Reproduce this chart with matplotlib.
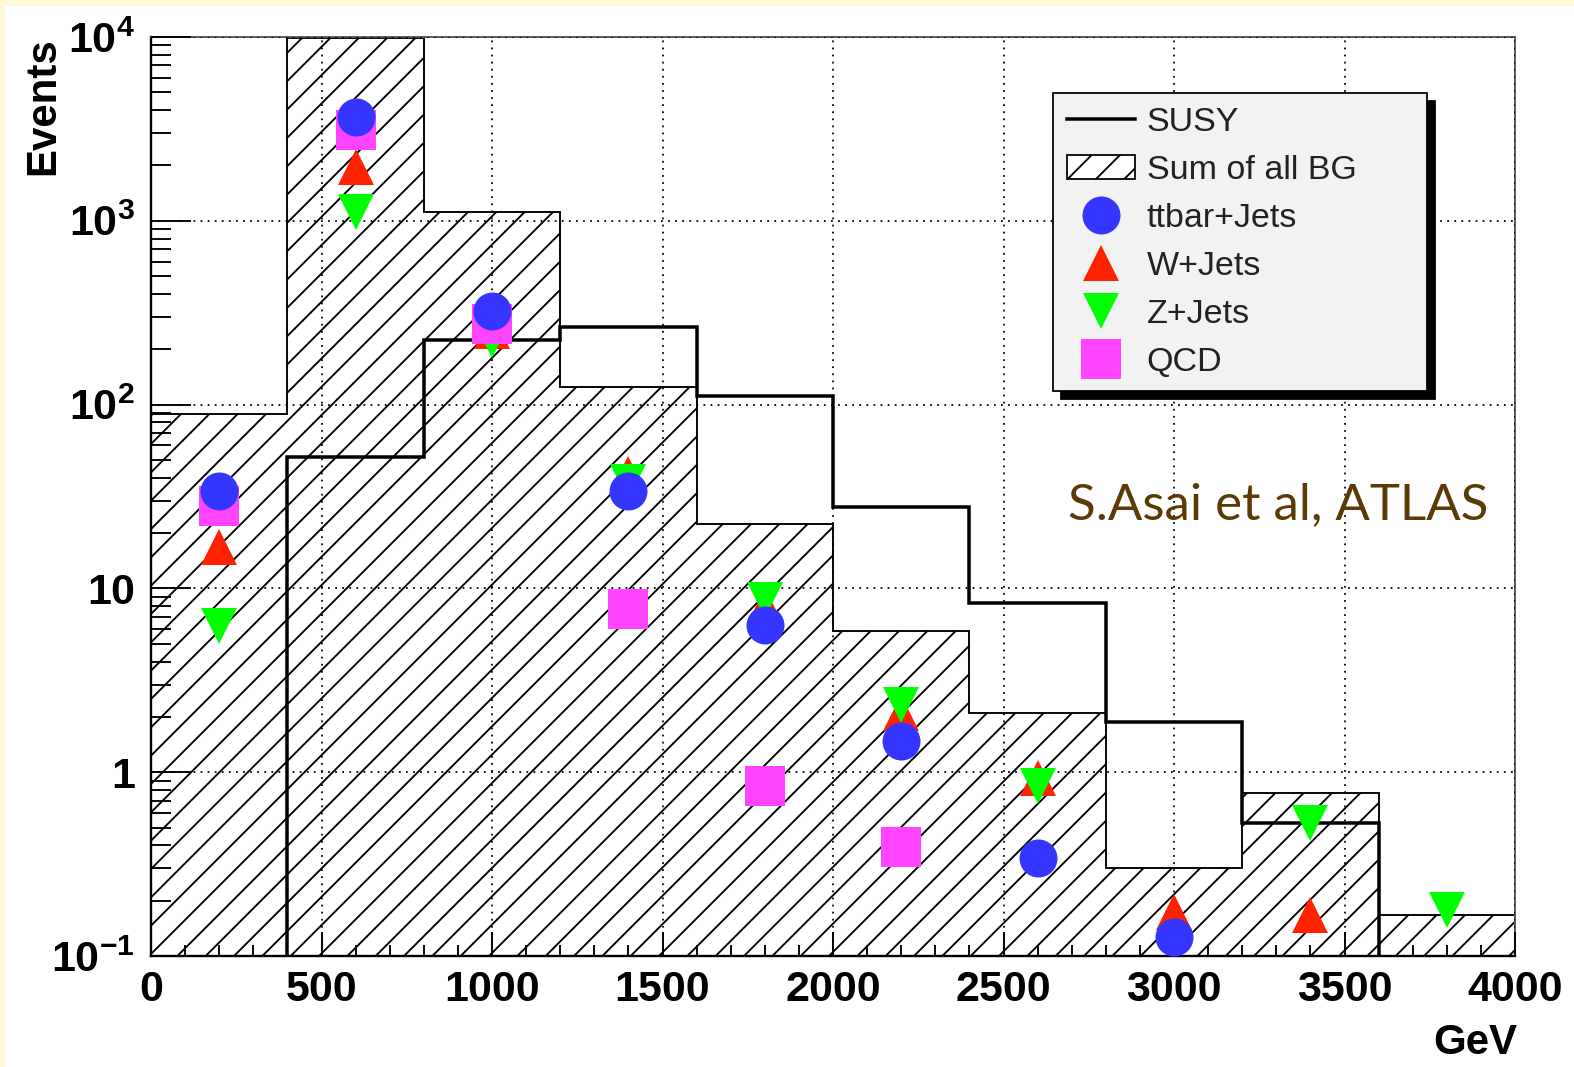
import numpy as np
import matplotlib
matplotlib.use("Agg")
import matplotlib.pyplot as plt
from matplotlib.patches import Rectangle
from matplotlib.lines import Line2D
from matplotlib.ticker import FixedLocator, MultipleLocator, LogLocator, NullFormatter

# ---------------- data ----------------
edges = [0, 400, 800, 1200, 1600, 2000, 2400, 2800, 3200, 3600, 4000]
centers = [200, 600, 1000, 1400, 1800, 2200, 2600, 3000, 3400, 3800]
bg_sum = [88.6, 9900, 1120, 124, 22.5, 5.9, 2.11, 0.30, 0.77, 0.167]
susy = [0, 52, 224, 264, 111, 27.6, 8.3, 1.88, 0.53, 0]
ttbar = [33.7, 3660, 322, 33.7, 6.35, 1.47, 0.34, 0.127, np.nan, np.nan]
wjets = [16.9, 1960, 250, 41.7, 8.0, 2.1, 0.93, 0.174, 0.168, np.nan]
zjets = [6.27, 1115, 226, 38, 8.7, 2.33, 0.84, np.nan, 0.53, 0.178]
qcd = [27.9, 3110, 273, 7.7, 0.84, 0.39, np.nan, np.nan, np.nan, np.nan]

x_ticks = [0, 500, 1000, 1500, 2000, 2500, 3000, 3500, 4000]
x_ticklabels = ["0", "500", "1000", "1500", "2000", "2500", "3000", "3500", "4000"]
y_ticks = [0.1, 1, 10, 100, 1000, 10000]
y_ticklabels = ["$10^{-1}$", "1", "10", "$10^{2}$", "$10^{3}$", "$10^{4}$"]

legend_labels = ["SUSY", "Sum of all BG", "ttbar+Jets", "W+Jets", "Z+Jets", "QCD"]
annotation = "S.Asai et al, ATLAS"

# ---------------- style ----------------
DPI = 85
W, H = 1574, 1067
def pt(px):
    return px * 72.0 / DPI

plt.rcParams["font.family"] = ["Liberation Sans", "DejaVu Sans"]
plt.rcParams["mathtext.fontset"] = "custom"
plt.rcParams["mathtext.rm"] = "Liberation Sans:bold"
plt.rcParams["mathtext.bf"] = "Liberation Sans:bold"
plt.rcParams["mathtext.it"] = "Liberation Sans:bold"
plt.rcParams["mathtext.default"] = "rm"
plt.rcParams["hatch.linewidth"] = 1.6

fig = plt.figure(figsize=(W / DPI, H / DPI), dpi=DPI)
fig.patch.set_facecolor("#fff8d8")
fig.patches.append(Rectangle((5 / W, 0), 1, 1 - 6 / H, transform=fig.transFigure,
                             facecolor="white", edgecolor="none", zorder=-10))

L, R, T, B = 151, 1515, 37, 956
ax = fig.add_axes([L / W, (H - B) / H, (R - L) / W, (B - T) / H])
ax.set_facecolor("white")
ax.set_yscale("log")
ax.set_xlim(0, 4000)
ax.set_ylim(0.1, 10000)

# background sum (hatched)
ax.stairs(bg_sum, edges, baseline=1e-3, fill=True, facecolor="white",
          edgecolor="black", hatch="/", linewidth=0, zorder=1)
ax.stairs(bg_sum, edges, baseline=1e-3, fill=False, edgecolor="black",
          linewidth=1.6, zorder=1.5)
# SUSY line
ax.stairs(susy, edges, baseline=None, fill=False, edgecolor="black",
          linewidth=pt(3.5), zorder=3)

ms_c, ms_t, ms_s = pt(38), pt(36), pt(39)
ax.plot(centers, wjets, ls="none", marker="^", ms=ms_t, color="#ff2200", mew=0, zorder=5)
ax.plot(centers, zjets, ls="none", marker="v", ms=ms_t, color="#00ff00", mew=0, zorder=6)
ax.plot(centers, qcd, ls="none", marker="s", ms=ms_s, color="#ff44ff", mew=0, zorder=7)
ax.plot(centers, ttbar, ls="none", marker="o", ms=ms_c, color="#3535ff", mew=0, zorder=8)

# grid
ax.set_axisbelow(False)
ax.grid(True, which="major", color="black", linestyle=(0, (1, 3)), linewidth=1.5)

# ticks
ax.xaxis.set_major_locator(FixedLocator(x_ticks))
ax.set_xticklabels(x_ticklabels)
ax.xaxis.set_minor_locator(MultipleLocator(100))
ax.yaxis.set_major_locator(FixedLocator(y_ticks))
ax.set_yticklabels(y_ticklabels)
ax.yaxis.set_minor_locator(LogLocator(base=10, subs=np.arange(2, 10)))
ax.yaxis.set_minor_formatter(NullFormatter())

fs_tick = pt(43)
ax.tick_params(axis="both", which="both", direction="in", top=False, right=False,
               width=1.6, color="black")
ax.tick_params(axis="y", which="major", length=pt(40), pad=pt(16), labelsize=fs_tick)
ax.tick_params(axis="y", which="minor", length=pt(20))
ax.tick_params(axis="x", which="major", length=pt(24), pad=pt(14), labelsize=fs_tick)
ax.tick_params(axis="x", which="minor", length=pt(11))
for lab in ax.get_xticklabels() + ax.get_yticklabels():
    lab.set_fontweight("bold")

for s in ["left", "bottom"]:
    ax.spines[s].set_linewidth(2.0)
    ax.spines[s].set_color("black")
for s in ["top", "right"]:
    ax.spines[s].set_linewidth(1.6)
    ax.spines[s].set_color("#555555")

# labels
ax.set_ylabel("Events", fontsize=pt(42), fontweight="bold", loc="top")
ax.yaxis.set_label_coords((63 - L) / (R - L), 1.0)
ax.set_xlabel("GeV", fontsize=pt(42), fontweight="bold", loc="right")
ax.xaxis.set_label_coords((1517 - L) / (R - L), -(1023 - B) / (B - T))

# annotation
ax.text((1068 - L) / (R - L), (B - 505) / (B - T), annotation, transform=ax.transAxes,
        fontsize=pt(51), color="#5a3a05", family=["Lato", "DejaVu Sans"],
        ha="left", va="center", zorder=10)

# legend
handles = [
    Line2D([], [], color="black", linewidth=pt(3.5)),
    Rectangle((0, 0), 1, 1, facecolor="white", edgecolor="black", hatch="/", linewidth=1.5),
    Line2D([], [], ls="none", marker="o", ms=ms_c, color="#3535ff", mew=0),
    Line2D([], [], ls="none", marker="^", ms=ms_t, color="#ff2200", mew=0),
    Line2D([], [], ls="none", marker="v", ms=ms_t, color="#00ff00", mew=0),
    Line2D([], [], ls="none", marker="s", ms=ms_s, color="#ff44ff", mew=0),
]
lx0 = (1053 - L) / (R - L)
lx1 = (1427 - L) / (R - L)
ly1 = (B - 93) / (B - T)
leg = ax.legend(handles, legend_labels, loc="upper left", mode="expand",
                bbox_to_anchor=(lx0, ly1 - 0.05, lx1 - lx0, 0.05),
                fontsize=pt(34), frameon=True, fancybox=False,
                facecolor="#f2f2f2", edgecolor="black", framealpha=1,
                borderpad=0.4, labelspacing=0.5, handlelength=2.0,
                handletextpad=0.35, borderaxespad=0,
                shadow={"ox": pt(8), "oy": -pt(8), "facecolor": "black",
                        "edgecolor": "black", "alpha": 1})
leg.get_frame().set_linewidth(1.5)
leg.set_zorder(20)
for t in leg.get_texts():
    t.set_color("#222222")

fig.savefig("out.png", dpi=DPI, facecolor=fig.get_facecolor())
